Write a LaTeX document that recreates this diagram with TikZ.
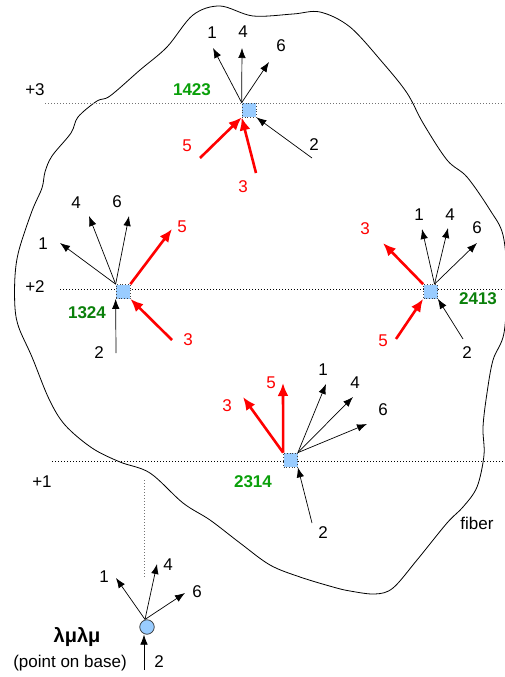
\documentclass[tikz,border=0pt]{standalone}
\usepackage{fontspec}
\setmainfont{Liberation Sans}
\usetikzlibrary{arrows.meta}
\definecolor{sqfill}{HTML}{99CCFF}
\definecolor{gbright}{HTML}{0AA00A}
\definecolor{gdark}{HTML}{0A800A}
\definecolor{redc}{HTML}{FF0000}
\tikzset{
  blk/.style={draw=black,line width=0.7pt,-{Latex[length=10pt,width=7.5pt]}},
  redarr/.style={draw=redc,line width=2.6pt,-{Latex[length=13pt,width=11pt]}},
  sq/.style={draw=black!75,dotted,line width=0.7pt,fill=sqfill,minimum size=14pt,inner sep=0pt},
  basept/.style={circle,draw=black!80,line width=0.7pt,fill=sqfill,minimum size=14.5pt,inner sep=0pt},
  lab/.style={inner sep=0pt,font=\fontsize{17}{20}\selectfont},
  rlab/.style={lab,text=redc},
  glab/.style={inner sep=0pt,font=\fontsize{17}{20}\selectfont\bfseries},
  level/.style={draw=black,line width=0.7pt,dash pattern=on 1pt off 2pt},
  glevel/.style={draw=black!55,line width=0.7pt,dash pattern=on 1pt off 2pt},
  fiberline/.style={draw=black,line width=0.8pt},
}
\begin{document}
\begin{tikzpicture}[x=1pt,y=-1pt]
\useasboundingbox (0,0) rectangle (504,677);
\fill[white] (0,0) rectangle (504,677);
% fiber outline
\draw[fiberline] plot[smooth cycle,tension=0.55] coordinates {
(193,15) (220,6) (253,16) (293,14) (320,12) (350,27) (383,63) (407,93) (423,123)
(447,160) (467,177) (490,210) (503,235) (507,280) (504,333) (493,360) (487,393)
(483,427) (484,455) (477,487) (463,507) (447,523) (417,560) (393,588) (375,594)
(350,591) (333,587) (300,577) (270,565) (240,543) (210,520) (183,503) (150,473)
(120,462) (92,448) (65,425) (49,399) (32,357) (19,328) (15,308) (15,276) (19,250)
(32,211) (42,188) (45,172) (52,156) (71,133) (78,117) (97,101) (110,96) (140,70) (167,47)};
% level lines
\draw[glevel] (45,103) -- (504,103);
\draw[level] (60,289) -- (504,289);
\draw[level] (52,461) -- (504,461);
\draw[glevel] (144,480) -- (144,577);
\node[lab] (l3) at (35,90) {+3};
\node[lab] (l2) at (35,287) {+2};
\node[lab] (l1) at (42,482) {+1};
\node[lab] (fib) at (477,523) {fiber};

% ---------- 1423 ----------
\node[sq] (a) at (249,110) {};
\coordinate (a1) at (213,48);
\coordinate (a4) at (242,48);
\coordinate (a6) at (269,62);
\coordinate (a5) at (200,158);
\coordinate (a3) at (256,173);
\coordinate (a2) at (312,158);
\draw[blk] (a.north west) -- (a1);
\draw[blk] (a.north west) -- (a4);
\draw[blk] (a.north west) -- (a6);
\draw[redarr] (a5) -- (a.south west);
\draw[redarr] (a3) -- (a.south west);
\draw[blk] (a2) -- (a.south east);
\node[lab] (la1) at (212,33) {1};
\node[lab] (la4) at (243,32) {4};
\node[lab] (la6) at (281,46) {6};
\node[rlab] (la5) at (187,146) {5};
\node[rlab] (la3) at (243,187) {3};
\node[lab] (la2) at (314,145) {2};
\node[glab,text=gbright] (na) at (192,90) {1423};

% ---------- 1324 ----------
\node[sq] (b) at (123,291.5) {};
\coordinate (b1) at (60,243);
\coordinate (b4) at (89,216);
\coordinate (b6) at (129,216);
\coordinate (b5) at (172,229);
\coordinate (b2) at (116,353);
\coordinate (b3) at (172,340);
\draw[blk] (b.north west) -- (b1);
\draw[blk] (b.north west) -- (b4);
\draw[blk] (b.north west) -- (b6);
\draw[redarr] (b.north east) -- (b5);
\draw[blk] (b2) -- (b.south west);
\draw[redarr] (b3) -- (b.south east);
\node[lab] (lb1) at (43,244) {1};
\node[lab] (lb4) at (76,203) {4};
\node[lab] (lb6) at (117,202) {6};
\node[rlab] (lb5) at (182,227) {5};
\node[lab] (lb2) at (99,353) {2};
\node[rlab] (lb3) at (188,340) {3};
\node[glab,text=gdark] (nb) at (87,313) {1324};

% ---------- 2413 ----------
\node[sq] (c) at (430.5,291.5) {};
\coordinate (c1) at (422,229);
\coordinate (c4) at (448,228);
\coordinate (c6) at (477,243);
\coordinate (c3) at (383,243);
\coordinate (c5) at (396,339);
\coordinate (c2) at (463,339);
\draw[blk] ([xshift=4pt]c.north) -- (c1);
\draw[blk] ([xshift=4pt]c.north) -- (c4);
\draw[blk] ([xshift=4pt]c.north) -- (c6);
\draw[redarr] (c.north west) -- (c3);
\draw[redarr] (c5) -- (c.south west);
\draw[blk] (c2) -- (c.south east);
\node[lab] (lc1) at (419,215) {1};
\node[lab] (lc4) at (450,215) {4};
\node[lab] (lc6) at (477,228) {6};
\node[rlab] (lc3) at (365,229) {3};
\node[rlab] (lc5) at (383,341) {5};
\node[lab] (lc2) at (467,353) {2};
\node[glab,text=gdark] (nc) at (478,299) {2413};

% ---------- 2314 ----------
\node[sq] (d) at (290.5,460) {};
\coordinate (d5) at (283,383);
\coordinate (d3) at (243,397);
\coordinate (d1) at (326,384);
\coordinate (d4) at (353,397);
\coordinate (d6) at (367,424);
\coordinate (d2) at (312,523);
\draw[redarr] (d.north west) -- (d5);
\draw[redarr] (d.north west) -- (d3);
\draw[blk] (d.north east) -- (d1);
\draw[blk] (d.north east) -- (d4);
\draw[blk] (d.north east) -- (d6);
\draw[blk] (d2) -- (d.south east);
\node[rlab] (ld5) at (271,383) {5};
\node[rlab] (ld3) at (227,406) {3};
\node[lab] (ld1) at (323,370) {1};
\node[lab] (ld4) at (355,383) {4};
\node[lab] (ld6) at (383,410) {6};
\node[lab] (ld2) at (323,533) {2};
\node[glab,text=gbright] (nd) at (253,482) {2314};

% ---------- base point ----------
\node[basept] (e) at (147,627) {};
\coordinate (e1) at (116,578);
\coordinate (e4) at (157,564);
\coordinate (e6) at (185,593);
\coordinate (e2) at (144,670);
\draw[blk] ([xshift=-2pt]e.north) -- (e1);
\draw[blk] ([xshift=-2pt]e.north) -- (e4);
\draw[blk] ([xshift=-2pt]e.north) -- (e6);
\draw[blk] (e2) -- ([xshift=-3pt]e.south);
\node[lab] (le1) at (104,577) {1};
\node[lab] (le4) at (168,565) {4};
\node[lab] (le6) at (197,592) {6};
\node[lab] (le2) at (159,662) {2};
\node[inner sep=0pt,font=\fontsize{20}{24}\selectfont\bfseries] (lam) at (77,637) {λμλμ};
\node[lab] (pob) at (70,663) {(point on base)};
\end{tikzpicture}
\end{document}
